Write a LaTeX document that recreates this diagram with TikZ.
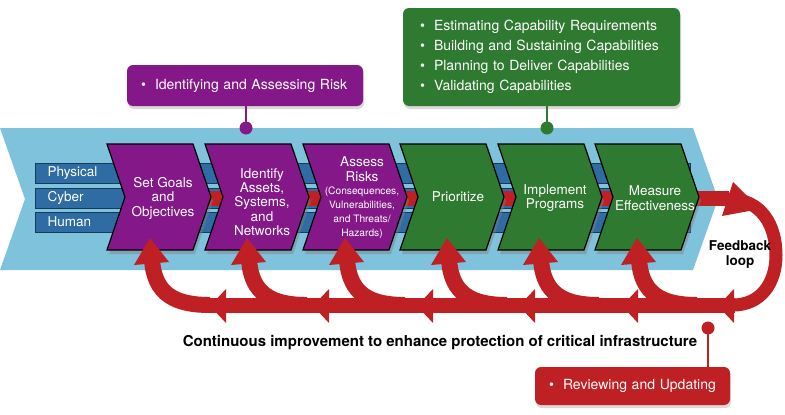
\documentclass[tikz,border=0pt]{standalone}
\usepackage{fontspec}
\setmainfont{TeX Gyre Heros}
\usepackage{tikz}
\usetikzlibrary{shadows,calc}

\definecolor{banner}{RGB}{126,194,220}
\definecolor{strip}{RGB}{46,108,163}
\definecolor{stripdark}{RGB}{22,58,92}
\definecolor{riskpurple}{RGB}{133,24,137}
\definecolor{capgreen}{RGB}{47,122,49}
\definecolor{loopred}{RGB}{190,32,36}

\tikzset{
  chevron/.style={draw=black,line width=1.2pt,line join=miter,
    drop shadow={shadow xshift=2pt,shadow yshift=-4pt,opacity=0.45}},
  steptext/.style={text=white,align=center,font=\fontsize{13.5}{14.5}\selectfont},
  striptext/.style={text=white,anchor=west,font=\fontsize{13.5}{15}\selectfont},
  callout/.style={rounded corners=6pt,text=white,align=left,inner sep=0pt,
    font=\fontsize{14}{20}\selectfont,
    drop shadow={shadow xshift=1pt,shadow yshift=-3pt,opacity=0.3}},
  redband/.style={loopred,line width=15pt},
}
\newcommand{\bul}{\makebox[14pt][l]{\textbullet}}

\begin{document}
\begin{tikzpicture}[x=1pt,y=-1pt]
\useasboundingbox (0,0) rectangle (785,415);
\fill[banner] (0,128) -- (693,128) -- (718,199) -- (693,270) -- (0,270) -- (25,199) -- cycle;
\foreach \y/\lab in {173/Physical,198/Cyber,222/Human}{
  \filldraw[strip,draw=stripdark,line width=1pt] (35,\y-10) rectangle (690,\y+10);
  \node[striptext] (lab\lab) at (44,\y) {\lab};
}
\draw[redband] (150,198) -- (705,198);
\foreach \i/\x/\col in {1/107/riskpurple,2/205/riskpurple,3/303/riskpurple,
                        4/400/capgreen,5/498/capgreen,6/595/capgreen}{
  \filldraw[chevron,fill=\col] (\x,144) -- ++(86,0) -- ++(18,53) -- ++(-18,53)
    -- ++(-86,0) -- ++(18,-53) -- cycle;
}
\node[steptext] (c1) at (163,198) {Set Goals\\and\\Objectives};
\node[steptext,font=\fontsize{13.5}{14.3}\selectfont] (c2) at (262,202) {Identify\\Assets,\\Systems,\\and\\Networks};
\node[steptext] (c3) at (362,169) {Assess\\Risks};
\node[steptext,font=\fontsize{10.2}{14}\selectfont] (c3b) at (362,213)
  {(Consequences,\\Vulnerabilities,\\and Threats/\\Hazards)};
\node[steptext] (c4) at (458,197) {Prioritize};
\node[steptext] (c5) at (555,198) {Implement\\Programs};
\node[steptext] (c6) at (655,198) {Measure\\Effectiveness};

\draw[redband] (701,198) -- (729,198);
\draw[loopred,line width=13pt] (728,199) .. controls (762,199) and (776,226) .. (776,255)
  .. controls (776,284) and (760,305) .. (733,305);
\draw[redband] (735,305) -- (205,305);
\fill[loopred] (733,182) -- (760,209) -- (722,216) -- cycle;
\foreach \t/\m in {148/210,245/313,343/417,445/519,537/622,635/718}{
  \draw[loopred,line width=16pt] (\t+62,305) .. controls (\t+28,305) and (\t+6,295) .. (\t+4,259);
  \fill[loopred] (\t+2,238) -- (\t+21,262) -- (\t-14,265) -- cycle;
  \fill[loopred] (\m,306) -- (\m+16,289) -- (\m+16,323) -- cycle;
}
\node[font=\bfseries\fontsize{13.5}{15}\selectfont,align=center] (fb) at (740,255) {Feedback\\loop};
\node[font=\bfseries\fontsize{15}{17}\selectfont] (caption) at (440,343)
  {Continuous improvement to enhance protection of critical infrastructure};

\node[callout,fill=riskpurple,minimum width=236pt,minimum height=41pt,text width=208pt]
  (riskbox) at (245,85.5) {\bul Identifying and Assessing Risk};
\node[callout,fill=capgreen,minimum width=277pt,minimum height=98pt,text width=243pt]
  (capbox) at (541.5,57) {\bul Estimating Capability Requirements\\
  \bul Building and Sustaining Capabilities\\
  \bul Planning to Deliver Capabilities\\
  \bul Validating Capabilities};
\node[callout,fill=loopred,minimum width=195pt,minimum height=38pt,text width=167pt]
  (reviewbox) at (632.5,386) {\bul Reviewing\ and\ Updating};

\coordinate (riskdot) at (246,128);
\coordinate (capdot) at (547,128);
\coordinate (reviewdot) at (708,328);
\draw[riskpurple,line width=1.6pt] (riskbox.south -| riskdot) -- (riskdot);
\fill[riskpurple] (riskdot) circle (6.5pt);
\draw[capgreen,line width=1.6pt] (capbox.south -| capdot) -- (capdot);
\fill[capgreen] (capdot) circle (6.5pt);
\draw[loopred,line width=1.6pt] (reviewbox.north -| reviewdot) -- (reviewdot);
\fill[loopred] (reviewdot) circle (6.5pt);
\end{tikzpicture}
\end{document}
